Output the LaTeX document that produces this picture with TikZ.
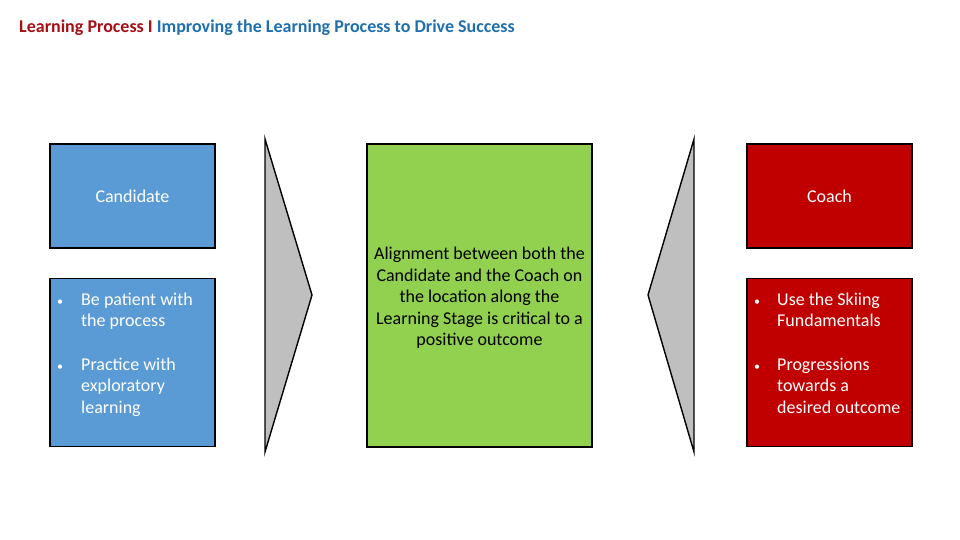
\documentclass[tikz,border=0pt]{standalone}
\usepackage{fontspec}
\setmainfont{Carlito}
\usetikzlibrary{positioning}
\definecolor{candblue}{HTML}{5B9BD5}
\definecolor{coachred}{HTML}{C00000}
\definecolor{alignGreen}{HTML}{92D050}
\definecolor{chevgray}{HTML}{BFBFBF}
\definecolor{titlered}{HTML}{A50F15}
\definecolor{titleblue}{HTML}{1F6FAE}
\newcommand{\bul}{{\fontsize{12}{21.5}\selectfont •}}
\begin{document}
\begin{tikzpicture}[x=1pt,y=-1pt,
    box/.style={draw=black, line width=1.4pt, inner sep=0pt},
    chev/.style={draw=black, line width=1.4pt, fill=chevgray, line join=miter},
    txt/.style={text=white, font=\fontsize{18}{21.5}\selectfont, inner sep=0pt},
    item/.style={txt, anchor=base west}]
                \useasboundingbox (0,0) rectangle (960,540);
                % title
                \node[anchor=base west, inner sep=0pt, font=\fontsize{18}{21}\selectfont\bfseries] at (19,33) (title) {\textcolor{titlered}{Learning Process I} \textcolor{titleblue}{Improving the Learning Process to Drive Success}};

                % candidate side
                \node[box, fill=candblue, minimum width=165, minimum height=104] at (132.5,196) (cand) {};
                \node[txt] at (cand.center) (candlbl) {Candidate};
                \node[box, fill=candblue, minimum width=165, minimum height=168, below=29pt of cand] (candlist) {};
                \node[item] at (57,305) (cand1) {\begin{tabular}[t]{@{}p{24pt}@{}l@{}}\bul & Be patient with\\ & the process\end{tabular}};
                \node[item] at (57,370) (cand2) {\begin{tabular}[t]{@{}p{24pt}@{}l@{}}\bul & Practice with\\ & exploratory\\ & learning\end{tabular}};

                % alignment in the middle
                \node[box, fill=alignGreen, minimum width=225, minimum height=303] at (479.5,295.5) (align) {};
                \node[txt, text=black, align=center] at (479.5,298) (alignlbl) {Alignment between both the\\Candidate and the Coach on\\the location along the\\Learning Stage is critical to a\\positive outcome};

                % coach side
                \node[box, fill=coachred, minimum width=165, minimum height=104] at (829.5,196) (coach) {};
                \node[txt] at (coach.center) (coachlbl) {Coach};
                \node[box, fill=coachred, minimum width=165, minimum height=168, below=29pt of coach] (coachlist) {};
                \node[item] at (754,305) (coach1) {\begin{tabular}[t]{@{}p{23pt}@{}l@{}}\bul & Use the Skiing\\ & Fundamentals\end{tabular}};
                \node[item] at (754,370) (coach2) {\begin{tabular}[t]{@{}p{23pt}@{}l@{}}\bul & Progressions\\ & towards a\\ & desired outcome\end{tabular}};

                % chevrons
                \coordinate (lt) at (265,139);
                \coordinate (lb) at (265,452);
                \coordinate (ltip) at (312,295);
                \coordinate (rt) at (694,139);
                \coordinate (rb) at (694,452);
                \coordinate (rtip) at (648,295);
                \draw[chev] (lt) -- (ltip) -- (lb) -- cycle;
                \draw[chev] (rt) -- (rtip) -- (rb) -- cycle;
            \end{tikzpicture}
\end{document}
